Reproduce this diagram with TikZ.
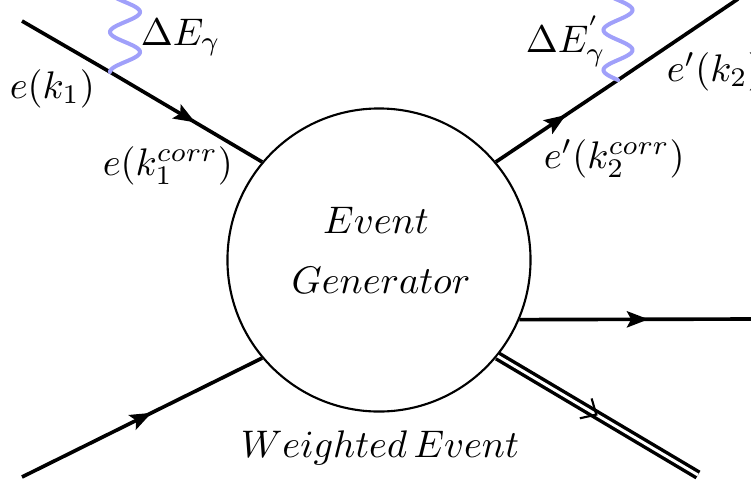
\documentclass[tikz,border=0pt]{standalone}
\usetikzlibrary{arrows.meta,decorations.markings}

\definecolor{photonblue}{RGB}{160,160,250}

\tikzset{
  fermion/.style={draw, line width=0.95pt,
    postaction={decorate},
    decoration={markings,
      mark=at position 0.5 with {\arrow[xshift=2.8pt]{Stealth[length=5.6pt,width=4.2pt,inset=1.1pt]}}}},
  plainline/.style={draw, line width=0.95pt},
  dblline/.style={draw, line width=0.9pt, double, double distance=0.75pt},
  dblarrow/.style={postaction={decorate},
    decoration={markings,
      mark=at position 0.5 with {\arrow[line width=0.55pt]{Straight Barb[length=3.2pt,width=6pt]}}}},
  photon/.style={draw=photonblue, line width=1.05pt, line cap=round},
  blob/.style={circle, draw, line width=0.55pt, inner sep=0pt, minimum size=78.8pt},
  lbl/.style={inner sep=0pt, anchor=base west},
  ctr/.style={inner sep=0pt, anchor=base}
}

\begin{document}
\begin{tikzpicture}[x=0.26pt, y=-0.26pt]
  \useasboundingbox (0,0) rectangle (751,484);

  % the generator blob
  \node[blob] (gen) at (379,260) {};
  \node[ctr] (ev)  at (376,233) {$Event$};
  \node[ctr] (gn)  at (381,293) {$Generator$};
  \node[ctr] (wev) at (380,457) {$Weighted\,Event$};

  % end points and emission vertices
  \coordinate (ein)  at (22,21);
  \coordinate (v1)   at (110,72);
  \coordinate (eout) at (738,-1);
  \coordinate (v2)   at (618,80);
  \coordinate (xout) at (756,319);
  \coordinate (pin)  at (22,477);
  \coordinate (hout) at (698,475);

  % incoming electron with initial-state radiation
  \draw[plainline] (ein) -- (v1);
  \draw[fermion] (v1) -- (gen.140);
  \draw[photon, shift={(v1)}] plot[domain=0:76, samples=120] ({15*(1-cos(9*\x))}, {-\x});

  % outgoing electron with final-state radiation
  \draw[fermion] (gen.40) -- (v2);
  \draw[plainline] (v2) -- (eout);
  \draw[photon, shift={(v2)}] plot[domain=0:84, samples=120] ({-14.5*sin(9*\x)}, {-\x});

  % other legs
  \draw[fermion] (gen.-23) -- (xout);
  \draw[fermion] (pin) -- (gen.220);
  \draw[dblline] (gen.-39) -- (hout);
  \path[dblarrow] (gen.-39) -- (hout);

  % labels
  \node[lbl] (lde)   at (140,45)  {$\Delta E_\gamma$};
  \node[lbl] (lek)   at (9,98)    {$e(k_1)$};
  \node[lbl] (lekc)  at (102,175) {$e(k_1^{corr})$};
  \node[lbl] (rde)   at (525,52)  {$\Delta E^{'}_\gamma$};
  \node[lbl] (rek)   at (666,81)  {$e'(k_2)$};
  \node[lbl] (rekc)  at (543,168) {$e'(k_2^{corr})$};
\end{tikzpicture}
\end{document}
